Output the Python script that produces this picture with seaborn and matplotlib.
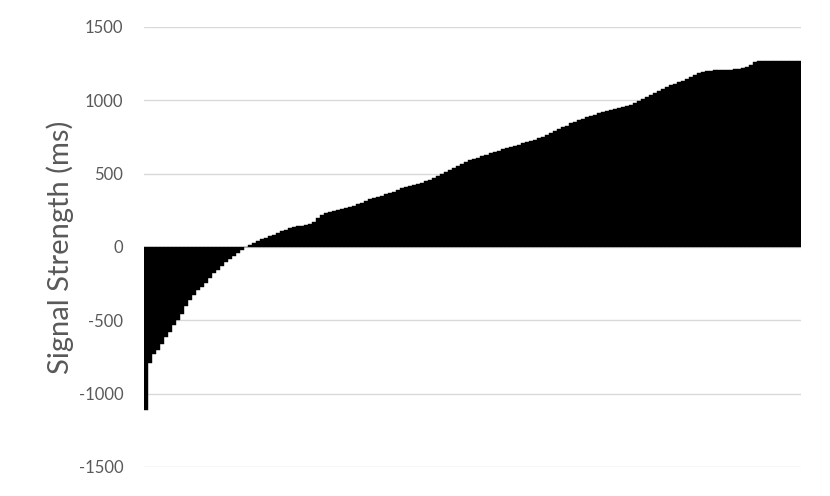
import numpy as np
import pandas as pd
import matplotlib
matplotlib.use('Agg')
import matplotlib.pyplot as plt
import seaborn as sns

# values, already sorted low -> high (one per bar)
neg_part = [-1110, -790, -730, -700, -660, -615, -578, -535, -495, -460,
            -400, -361, -330, -295, -270, -245, -214, -180, -155, -130,
            -105, -85, -60, -40, -18, -3]
low_part = [15, 28, 40, 52, 60, 75, 85, 97, 107, 118,
            127, 135, 140, 145, 150, 158, 170, 195, 220, 230,
            238, 245, 255, 260, 268, 275, 282, 290, 300, 312,
            325, 334, 342, 350, 358, 366, 378, 390, 400, 410,
            418, 425, 430, 437, 448, 460, 472, 485, 497, 512]
mid_part = [528, 540, 552, 565, 578, 590, 598, 608, 618, 628,
            638, 647, 657, 665, 674, 682, 690, 698, 706, 714,
            722, 732, 742, 752, 763, 775, 788, 802, 815, 828,
            842, 852, 863, 874, 885, 893, 902, 912, 920, 928,
            935, 942, 948, 954, 960, 968, 980, 995, 1010, 1024]
top_part = [1036, 1050, 1062, 1075, 1090, 1104, 1114, 1122, 1133, 1145,
            1158, 1170, 1183, 1195, 1200, 1203, 1205, 1206, 1207, 1208,
            1209, 1212, 1214, 1218, 1226, 1241, 1260, 1270, 1271, 1271,
            1271, 1271, 1271, 1271, 1271, 1271, 1271, 1271]

signal = neg_part + low_part + mid_part + top_part
df = pd.DataFrame({'item': range(len(signal)), 'signal': signal})

y_ticks = [-1500, -1000, -500, 0, 500, 1000, 1500]

sns.set_style('white')
plt.rcParams['font.family'] = ['Lato', 'DejaVu Sans']

fig = plt.figure(figsize=(8.3, 4.96), dpi=100)
ax = fig.add_axes([0.1735, 0.0585, 0.7915, 0.8871])

sns.barplot(data=df, x='item', y='signal', color='black', width=1.0,
            edgecolor='black', linewidth=0.3, saturation=1, ax=ax)

ax.set_ylim(-1500, 1500)
ax.set_xlim(-0.5, len(signal) - 0.5)
ax.set_yticks(y_ticks)
ax.set_yticklabels([str(t) for t in y_ticks])
ax.set_xticks([])
ax.set_xlabel('')
ax.set_ylabel('Signal Strength (ms)', fontsize=21, color='#595959')
ax.yaxis.set_label_coords(-0.106, 0.5)
ax.tick_params(axis='y', length=0, pad=15, labelsize=12, labelcolor='#595959')

ax.grid(axis='y', color='#d9d9d9', linewidth=1)
ax.set_axisbelow(True)
for s in ax.spines.values():
    s.set_visible(False)

fig.savefig('out.png', dpi=100)
